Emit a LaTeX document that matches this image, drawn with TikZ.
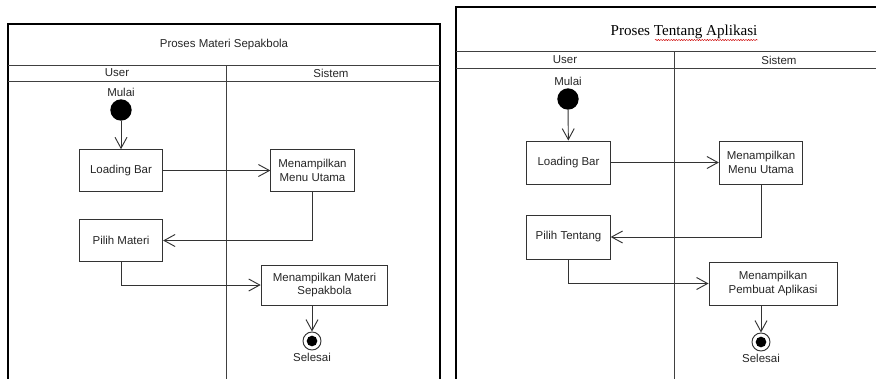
\documentclass[tikz,border=0pt]{standalone}
\usepackage{fontspec}
\setmainfont{Liberation Sans}
\newfontfamily\judulfont{Liberation Serif}
\usepackage{tikz}
\usetikzlibrary{calc,positioning,arrows.meta,decorations.pathmorphing}

\begin{document}
\begin{tikzpicture}[x=0.03cm,y=-0.03cm,
        font=\fontsize{9.8}{11.5}\selectfont,text=black!85,
        bingkai/.style={line width=1.5pt},
        lajur/.style={draw=black!75,line width=0.7pt},
        aktivitas/.style={draw=black!80,line width=0.8pt,minimum width=2.5cm,minimum height=1.25cm,align=center,inner sep=1pt},
        awal/.style={circle,fill=black,minimum size=0.64cm,inner sep=0pt},
        akhir/.style={circle,draw=black!80,line width=0.8pt,minimum size=0.54cm,inner sep=0pt},
        alur/.style={draw=black!80,line width=0.8pt,-{Straight Barb[length=0.33cm,width=0.36cm,line width=0.8pt]}}]
    \useasboundingbox (0,0) rectangle (876,378);
    \clip (0,0) rectangle (876,378);
    % kiri: Proses Materi Sepakbola
    \draw[bingkai] (8,390) -- (8,24) -- (440,24) -- (440,390);
    \draw[lajur] (8,65) -- (440,65);
    \draw[lajur] (8,81) -- (440,81);
    \draw[lajur] (226,65) -- (226,390);
    \node (judulA) at (224,45) {Proses Materi Sepakbola};
    \node (userA) at (117,73) {User};
    \node (sistemA) at (331,73) {Sistem};
    \node[awal] (mulaiA) at (121,110) {};
    \node (tMulaiA) [above=-1pt of mulaiA] {Mulai};
    \node[aktivitas] (loadA) at (121,170.5) {Loading Bar};
    \node[aktivitas] (menuA) at (312.5,170.5) {Menampilkan\\Menu Utama};
    \node[aktivitas] (pilihA) at (121,240.5) {Pilih Materi};
    \node[aktivitas,minimum width=3.8cm,minimum height=1.2cm] (materiA) at (324.5,285) {Menampilkan Materi\\Sepakbola};
    \node[akhir] (selesaiA) at (312,341) {};
    \fill[black] (selesaiA) circle (0.16cm);
    \node (tSelesaiA) [below=-1pt of selesaiA] {Selesai};
    \draw[alur] (mulaiA) -- (loadA);
    \draw[alur] (loadA) -- (menuA);
    \draw[alur] (menuA.south) |- (pilihA);
    \draw[alur] (pilihA.south) |- (materiA);
    \draw[alur] (materiA.south -| selesaiA) -- (selesaiA);
    % kanan: Proses Tentang Aplikasi
    \draw[bingkai] (456,390) -- (456,7) -- (880,7);
    \draw[lajur] (456,51) -- (880,51);
    \draw[lajur] (456,68) -- (880,68);
    \draw[lajur] (674,51) -- (674,390);
    \node[font=\judulfont\fontsize{12.9}{14}\selectfont,text=black] (judulB) at (684,32) {Proses Tentang Aplikasi};
    \draw[red!80!black,line width=0.4pt,decorate,decoration={snake,amplitude=0.5pt,segment length=2.2pt}] (655,40) -- (758,40);
    \node (userB) at (565,60) {User};
    \node (sistemB) at (779,60) {Sistem};
    \node[awal] (mulaiB) at (568,99) {};
    \node (tMulaiB) [above=-1pt of mulaiB] {Mulai};
    \node[aktivitas,minimum height=1.29cm] (loadB) at (568.5,162.5) {Loading Bar};
    \node[aktivitas,minimum height=1.29cm] (menuB) at (761,162.5) {Menampilkan\\Menu Utama};
    \node[aktivitas,minimum height=1.32cm] (pilihB) at (568.5,237) {Pilih Tentang};
    \node[aktivitas,minimum width=3.84cm,minimum height=1.29cm] (pembuatB) at (773,283.5) {Menampilkan\\Pembuat Aplikasi};
    \node[akhir] (selesaiB) at (761,342) {};
    \fill[black] (selesaiB) circle (0.16cm);
    \node (tSelesaiB) [below=-1pt of selesaiB] {Selesai};
    \draw[alur] (mulaiB) -- (loadB);
    \draw[alur] (loadB) -- (menuB);
    \draw[alur] (menuB.south) |- (pilihB);
    \draw[alur] (pilihB.south) |- (pembuatB);
    \draw[alur] (pembuatB.south -| selesaiB) -- (selesaiB);
\end{tikzpicture}
\end{document}
